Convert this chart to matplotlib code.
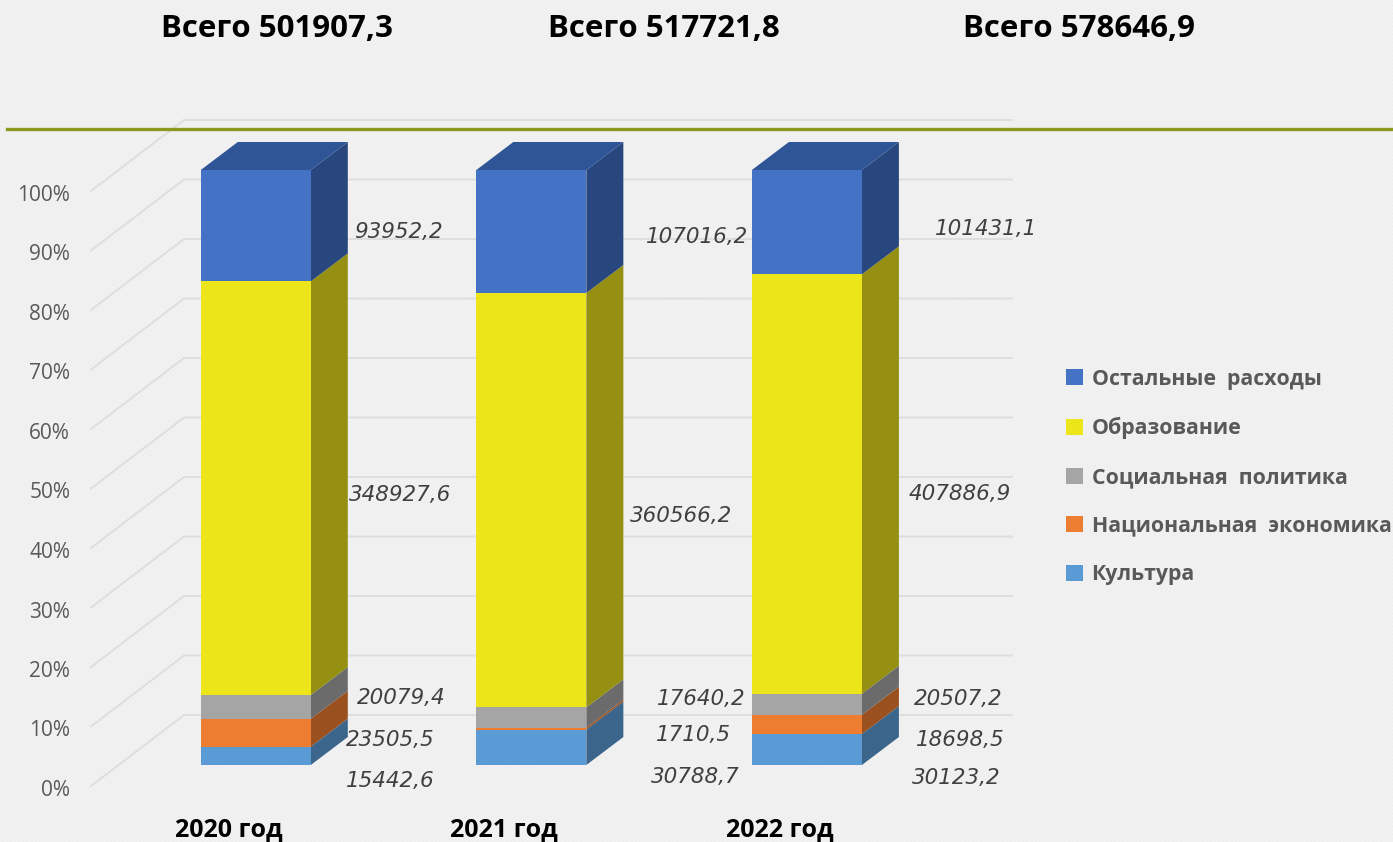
import numpy as np
import matplotlib
matplotlib.use("Agg")
import matplotlib.pyplot as plt
from matplotlib.lines import Line2D
from matplotlib.patches import Patch, Rectangle
from matplotlib.transforms import ScaledTranslation

W, H = 1393, 842

years = ["2020 год", "2021 год", "2022 год"]
totals = ["Всего 501907,3", "Всего 517721,8", "Всего 578646,9"]
series = ["Культура", "Национальная  экономика", "Социальная  политика", "Образование", "Остальные  расходы"]
kultura = [15442.6, 30788.7, 30123.2]
ekonomika = [23505.5, 1710.5, 18698.5]
politika = [20079.4, 17640.2, 20507.2]
obrazovanie = [348927.6, 360566.2, 407886.9]
ostalnye = [93952.2, 107016.2, 101431.1]
values = np.array([kultura, ekonomika, politika, obrazovanie, ostalnye])
yticks = list(range(0, 101, 10))

front_colors = ["#5b9bd5", "#ed7d31", "#a5a5a5", "#ebe51a", "#4472c4"]
side_colors = ["#3b658b", "#9b501f", "#6b6b6b", "#959012", "#28477f"]
top_color = "#2f5597"

# pixel centres of the value labels, one row per series (same order as values)
label_px = [
    [(390, 781), (695, 777), (956, 778)],
    [(390, 740), (693, 735), (960, 740)],
    [(401, 698), (701, 699), (958, 699)],
    [(400, 495), (681, 516), (960, 494)],
    [(398, 232), (697, 237), (986, 229)],
]
title_px = [277, 664, 1079]

plt.rcParams["font.family"] = ["Open Sans", "DejaVu Sans"]

fig = plt.figure(figsize=(W / 100, H / 100), dpi=100)
bg = "#efefef"
fig.patch.set_facecolor(bg)
plt.rcParams["hatch.linewidth"] = 0.6
fig.add_artist(Rectangle((0, 0), 1, 1, transform=fig.transFigure, facecolor=bg,
                         edgecolor="#f4f4f4", hatch="////////", linewidth=0, zorder=-5))

# axes: y=0 is the front floor line, y=100 its top, one category = 275.5 px
ax = fig.add_axes([91 / W, (H - 786) / H, (W - 91) / W, 786 / H])
ax.patch.set_alpha(0)
ax.set_xlim(-0.5, (W - 229) / 275.5)
ax.set_ylim(0, 786 / 5.95)
for s in ax.spines.values():
    s.set_visible(False)

# 3D offsets in data units
depth_x, depth_y = 93 / 275.5, 71 / 5.95     # walls
lift_x, lift_y = 27 / 275.5, 21 / 5.95       # bar front from floor front
bar_dx, bar_dy = 37 / 275.5, 28 / 5.95       # bar depth
bar_w = 110 / 275.5
wall_end = (1012 - 229) / 275.5

grid_c = "#dedede"
for t in yticks:
    ax.plot([-0.5, -0.5 + depth_x, wall_end], [t, t + depth_y, t + depth_y],
            color=grid_c, lw=1.4, zorder=1, clip_on=False, solid_joinstyle="miter")

pct = values / values.sum(axis=0) * 100
x = np.arange(len(years))
bottom = np.zeros(len(years))
for k in range(len(series)):
    ax.bar(x + lift_x, pct[k], bar_w, bottom=bottom + lift_y,
           color=front_colors[k], zorder=3, clip_on=False, linewidth=0)
    for i in x:
        xr = i + lift_x + bar_w / 2
        y0 = bottom[i] + lift_y
        y1 = y0 + pct[k][i]
        ax.fill([xr, xr + bar_dx, xr + bar_dx, xr],
                [y0, y0 + bar_dy, y1 + bar_dy, y1],
                color=side_colors[k], zorder=2, clip_on=False, linewidth=0)
    bottom = bottom + pct[k]
for i in x:
    xl = i + lift_x - bar_w / 2
    yt = 100 + lift_y
    ax.fill([xl, xl + bar_w, xl + bar_w + bar_dx, xl + bar_dx],
            [yt, yt, yt + bar_dy, yt + bar_dy], color=top_color, zorder=2, linewidth=0)

ax.set_yticks(yticks)
ax.set_yticklabels([f"{t}%" for t in yticks], fontsize=15, color="#595959")
ax.set_xticks(x)
ax.set_xticklabels(years, fontsize=18, fontweight="bold", color="black")
ax.tick_params(axis="y", length=0, pad=15)
ax.tick_params(axis="x", length=0, pad=22)
shift = ScaledTranslation(0, -2 / 100, fig.dpi_scale_trans)
for lab in ax.get_yticklabels():
    lab.set_transform(lab.get_transform() + shift)

for k in range(len(series)):
    for i in x:
        px, py = label_px[k][i]
        fig.text(px / W, 1 - py / H, f"{values[k][i]:.1f}".replace(".", ","),
                 ha="center", va="center", fontsize=15.5, style="italic", color="#404040",
                 family="DejaVu Sans")

for tx, label in zip(title_px, totals):
    fig.text(tx / W, 1 - 29 / H, label, ha="center", va="center",
             fontsize=22.5, fontweight="bold", color="black")

fig.add_artist(Line2D([7 / W, 1], [1 - 129 / H] * 2, transform=fig.transFigure,
                      color="#8a9a1f", lw=2.4, zorder=6))

handles = [Patch(facecolor=front_colors[k], label=series[k]) for k in range(len(series) - 1, -1, -1)]
leg = fig.legend(handles=handles, loc="center left", bbox_to_anchor=(1066 / W, 1 - 477 / H),
                 frameon=False, fontsize=15.3, handlelength=0.8, handleheight=0.8,
                 handletextpad=0.4, labelspacing=1.3, borderpad=0, borderaxespad=0)
for txt in leg.get_texts():
    txt.set_fontweight("bold")
    txt.set_color("#595959")

fig.savefig("out.png", dpi=100, facecolor=bg)
